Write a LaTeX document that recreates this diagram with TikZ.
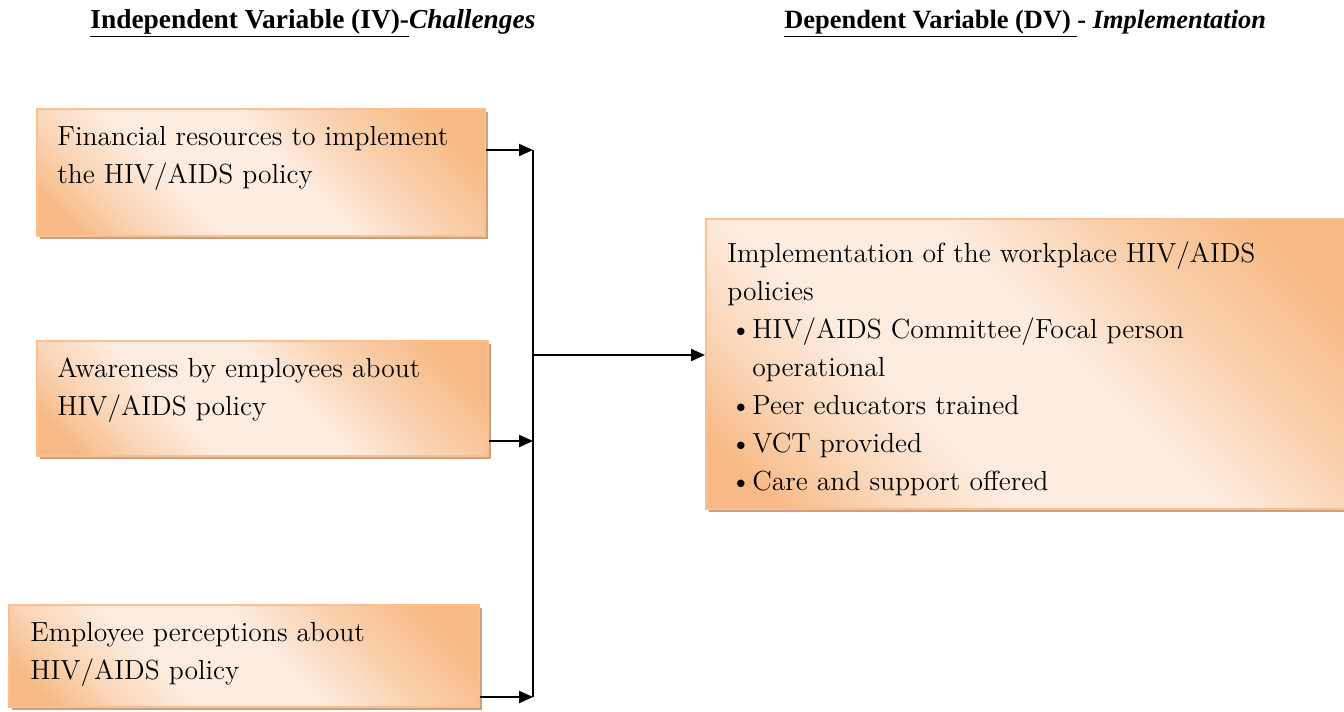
\documentclass[tikz,border=0pt]{standalone}
\usepackage{fontspec}
\newfontfamily\headfont{Liberation Serif}
\usepackage{xcolor}
\usepackage{tikz}
\usetikzlibrary{arrows.meta,positioning,shadows,calc}

\definecolor{boxorange}{RGB}{247,186,134}
\definecolor{boxmid}{RGB}{250,212,180}
\definecolor{boxlight}{RGB}{253,236,224}
\definecolor{boxedge}{RGB}{250,192,145}
\definecolor{boxshade}{RGB}{203,160,126}

\pgfdeclareverticalshading{peach}{100bp}{color(0bp)=(boxorange); color(22bp)=(boxorange);
  color(36bp)=(boxmid); color(46bp)=(boxlight); color(62bp)=(boxlight);
  color(72bp)=(boxmid); color(80bp)=(boxorange); color(100bp)=(boxorange)}

\newcommand{\itm}{\hspace*{1.5pt}\makebox[11pt][l]{\textbullet}}

\tikzset{
  varbox/.style={rectangle, draw=boxedge, line width=1pt, anchor=north west, inner sep=0pt,
    shading=peach, shading angle=135,
    general shadow={fill=boxshade, shadow xshift=1.5pt, shadow yshift=-1.5pt}},
  boxtext/.style={anchor=north west, align=left, inner sep=0pt, font=\fontsize{13.8}{19}\selectfont},
  head/.style={anchor=base west, inner sep=0pt, font=\headfont\fontsize{13.7}{16}\selectfont},
  link/.style={line width=1pt, -{Triangle[length=7pt,width=6pt]}}
}

\begin{document}
\begin{tikzpicture}[x=0.5pt, y=-0.5pt]
    \useasboundingbox (0,0) rectangle (1344,712);

    % Headings
    \node[head] (ivhead) at (90,28) {\textbf{\underline{Independent Variable (IV)-}\textit{Challenges}}};
    \node[head, font=\headfont\fontsize{13.2}{16}\selectfont] (dvhead) at (784,28) {\textbf{\underline{Dependent Variable (DV) }- \textit{Implementation}}};

    % Challenges (IV)
    \node[varbox, minimum width=224pt, minimum height=63.5pt] (fin) at (36,108) {};
    \node[boxtext] (fintext) at ($(fin.north west)+(21,18)$) {Financial resources to implement\\the HIV/AIDS policy};

    \node[varbox, minimum width=225.5pt, minimum height=57.5pt] (aware) at (36,340) {};
    \node[boxtext] (awaretext) at ($(aware.north west)+(21,17)$) {Awareness by employees about\\HIV/AIDS policy};

    \node[varbox, minimum width=235pt, minimum height=51pt] (percep) at (8,604) {};
    \node[boxtext] (perceptext) at ($(percep.north west)+(22,18)$) {Employee perceptions about\\HIV/AIDS policy};

    % Implementation (DV)
    \node[varbox, minimum width=322.5pt, minimum height=145pt] (impl) at (705,218) {};
    \node[boxtext] (impltext) at ($(impl.north west)+(22,23)$) {Implementation of the workplace HIV/AIDS\\policies\\
        \itm HIV/AIDS Committee/Focal person\\\hspace*{12.5pt}operational\\
        \itm Peer educators trained\\\itm VCT provided\\\itm Care and support offered};

    % Bus and arrows
    \coordinate (bustop) at (533,150);
    \coordinate (busaware) at (533,441);
    \coordinate (busmid) at (533,355);
    \coordinate (busbot) at (533,697);
    \draw[line width=1pt] (bustop) -- (busbot);
    \draw[link] (fin.east |- bustop) -- (bustop);
    \draw[link] (aware.east |- busaware) -- (busaware);
    \draw[link] (percep.east |- busbot) -- (busbot);
    \draw[link] (busmid) -- (impl.west |- busmid);
\end{tikzpicture}
\end{document}
